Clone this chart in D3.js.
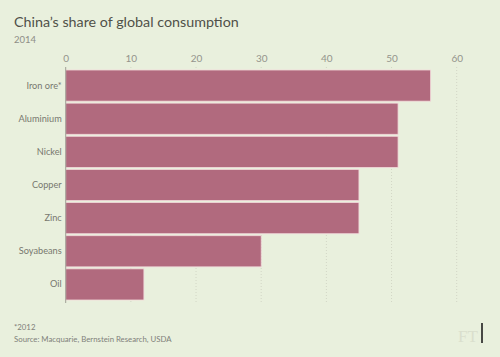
<!DOCTYPE html>
<html>
<head>
<meta charset="utf-8">
<script src="https://cdn.jsdelivr.net/npm/d3@7"></script>
<style>
  html, body { margin: 0; padding: 0; background: #e9f0dd; }
  svg { display: block; font-family: Lato, "Open Sans", sans-serif; }
</style>
</head>
<body>
<svg id="chart" width="500" height="357"></svg>
<script>
const categories = ["Iron ore*", "Aluminium", "Nickel", "Copper", "Zinc", "Soyabeans", "Oil"];
const values = [56, 51, 51, 45, 45, 30, 12];
const tickValues = [0, 10, 20, 30, 40, 50, 60];
const title = "China\u2019s share of global consumption";
const subtitle = "2014";
const footnote = "*2012";
const source = "Source: Macquarie, Bernstein Research, USDA";

const svg = d3.select("#chart");
svg.append("rect").attr("width", 500).attr("height", 357).attr("fill", "#e9f0dd");

const x = d3.scaleLinear().domain([0, 60]).range([65.7, 456.7]);
const y = d3.scaleBand().domain(categories).range([70, 300]).paddingInner(0.06).paddingOuter(0);

// grid lines
svg.append("g").selectAll("line").data(tickValues.filter(d => d > 0)).join("line")
  .attr("x1", d => x(d)).attr("x2", d => x(d))
  .attr("y1", 67).attr("y2", 303)
  .attr("stroke", "#d2d6c6").attr("stroke-width", 1)
  .attr("stroke-dasharray", "1,2");

// bars
svg.append("g").selectAll("rect").data(categories).join("rect")
  .attr("x", x(0))
  .attr("y", d => y(d))
  .attr("width", (d, i) => x(values[i]) - x(0))
  .attr("height", y.bandwidth())
  .attr("fill", "#b16a7e")
  .attr("stroke", "#f2d9da")
  .attr("stroke-width", 0.8);

// top axis
const xAxis = d3.axisTop(x).tickValues(tickValues).tickSize(0).tickPadding(0);
const gx = svg.append("g").attr("transform", "translate(0,66)").call(xAxis);
gx.select(".domain").remove();
gx.selectAll("text").attr("fill", "#94948c").attr("font-size", 10).attr("dy", "-0.45em")
  .attr("font-family", "Lato, sans-serif");

// y axis
const yAxis = d3.axisLeft(y).tickSize(0).tickPadding(4);
const gy = svg.append("g").attr("transform", `translate(${x(0)},0)`).call(yAxis);
gy.select(".domain").remove();
gy.selectAll("text").attr("fill", "#78786f").attr("font-size", 9.2)
  .attr("font-family", "Lato, sans-serif");

svg.append("line").attr("x1", x(0)).attr("x2", x(0)).attr("y1", 67).attr("y2", 303)
  .attr("stroke", "#a0a096").attr("stroke-width", 1);

// titles
svg.append("text").attr("x", 14).attr("y", 27.3).text(title)
  .attr("fill", "#505049").attr("font-size", 14.3);
svg.append("text").attr("x", 14).attr("y", 42.5).text(subtitle)
  .attr("fill", "#8e8e86").attr("font-size", 9.5);

// footer
svg.append("text").attr("x", 14).attr("y", 329.5).text(footnote)
  .attr("fill", "#80807a").attr("font-size", 7.8);
svg.append("text").attr("x", 14).attr("y", 341.5).text(source)
  .attr("fill", "#80807a").attr("font-size", 7.8);

// FT logo
svg.append("text").attr("x", 458).attr("y", 342).text("FT")
  .attr("fill", "#dadfcd").attr("font-size", 17).attr("font-family", "Liberation Serif, serif");
svg.append("line").attr("x1", 482).attr("x2", 482).attr("y1", 323).attr("y2", 343)
  .attr("stroke", "#111").attr("stroke-width", 1.5);
</script>
</body>
</html>
